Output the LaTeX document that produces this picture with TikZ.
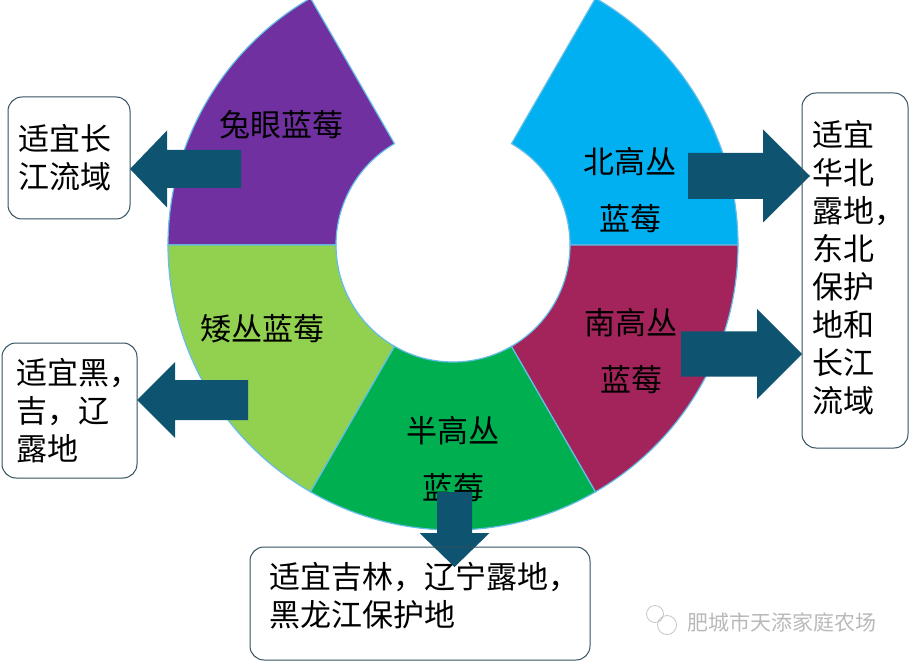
\documentclass[tikz,border=0pt]{standalone}
\usepackage{fontspec}
\newfontfamily\cjk{Noto Sans CJK SC}
\definecolor{segpurple}{HTML}{7030A0}
\definecolor{segcyan}{HTML}{00B0F0}
\definecolor{segmaroon}{RGB}{163,36,90}
\definecolor{seglime}{HTML}{92D050}
\definecolor{seggreen}{HTML}{00B050}
\definecolor{segline}{RGB}{100,190,232}
\definecolor{arrcol}{RGB}{14,84,112}
\definecolor{boxline}{RGB}{50,80,95}
\tikzset{
  seg/.style={draw=segline,line width=1.2pt},
  seglabel/.style={font=\cjk\fontsize{31}{57}\selectfont,align=center,inner sep=0pt},
  box/.style={draw=boxline,line width=1pt,rounded corners=14pt},
  boxtext/.style={font=\cjk\fontsize{31}{38}\selectfont,align=left,inner sep=0pt,anchor=west},
}
\begin{document}
\begin{tikzpicture}[x=1pt,y=1pt]
\useasboundingbox (0,0) rectangle (912,662);
\coordinate (ctr) at (453,417);
% ring segments
\foreach \a/\b/\c in {0/60/segcyan,120/180/segpurple,180/240/seglime,240/300/seggreen,300/360/segmaroon}
\draw[seg,fill=\c]([shift={(\a:117)}]ctr)--([shift={(\a:285)}]ctr)arc[start angle=\a,end angle=\b,radius=285]
  --([shift={(\b:117)}]ctr)arc[start angle=\b,end angle=\a,radius=117]--cycle;
\node[seglabel] (tuyan) at (281,537) {兔眼蓝莓};
\node[seglabel] (beigao) at (630,472) {北高丛\\蓝莓};
\node[seglabel] (aicong) at (262,333) {矮丛蓝莓};
\node[seglabel] (nangao) at (631,311) {南高丛\\蓝莓};
\node[seglabel] (bangao) at (453,203) {半高丛\\蓝莓};
% block arrows
\foreach \x/\y/\r/\bl/\tl/\bw/\hw in {241/493/180/74/111/19/38.5,248/262/180/73/111/20/38,454.5/170/-90/41/75/17.5/35,688/486/0/75/122/23/46.5,681/308/0/76/121/22.5/45}
\fill[arrcol,shift={(\x,\y)},rotate=\r](0,-\bw)--(\bl,-\bw)--(\bl,-\hw)--(\tl,0)--(\bl,\hw)--(\bl,\bw)--(0,\bw)--cycle;
% boxes
\node[box,minimum width=122pt,minimum height=122pt] (tuyanbox) at (69,504) {};
\node[box,minimum width=135pt,minimum height=135pt] (aicongbox) at (69.5,251.5) {};
\node[box,minimum width=106pt,minimum height=355pt] (gaobox) at (855,391.5) {};
\node[box,minimum width=340pt,minimum height=113pt] (bangaobox) at (420,58.5) {};
\node[boxtext] (tuyantxt) at ([xshift=11pt]tuyanbox.west) {适宜长\\江流域};
\node[boxtext] (aicongtxt) at ([xshift=15pt]aicongbox.west) {适宜黑，\\吉，辽\\露地};
\node[boxtext] (gaotxt) at ([xshift=11pt,yshift=3pt]gaobox.west) {适宜\\华北\\露地，\\东北\\保护\\地和\\长江\\流域};
\node[boxtext] (bangaotxt) at ([xshift=20pt,yshift=7.5pt]bangaobox.west) {适宜吉林，辽宁露地，\\黑龙江保护地};
% watermark
\draw[gray!45,line width=0.8pt] (655,48) circle (8.5) (667,37) circle (9.5);
\node[font=\cjk\fontsize{21}{21}\selectfont,text=gray!55,anchor=west,inner sep=0pt] (mark) at (687,40) {肥城市天添家庭农场};
\end{tikzpicture}
\end{document}
